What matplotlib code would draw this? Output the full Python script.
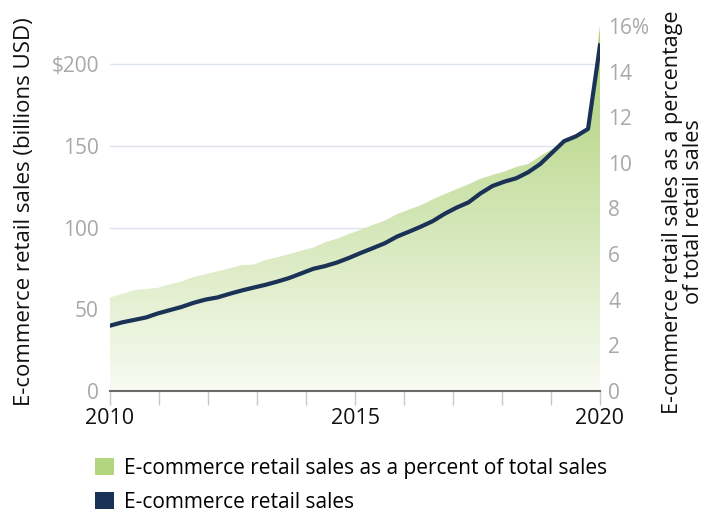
import numpy as np
import matplotlib
matplotlib.use("Agg")
import matplotlib.pyplot as plt
from matplotlib.colors import LinearSegmentedColormap
from matplotlib.patches import Patch

plt.rcParams['font.family'] = ['Open Sans', 'DejaVu Sans']

# quarterly values, 2010 Q1 .. 2020 Q2
quarters = [f"{y} Q{q}" for y in range(2010, 2021) for q in range(1, 5)][:42]

sales = [40.0, 42.0, 43.5, 45.0, 47.5, 49.5, 51.5, 54.0, 56.0, 57.3,
         59.5, 61.5, 63.3, 65.0, 67.0, 69.2, 72.0, 74.8, 76.5, 78.7,
         81.5, 84.6, 87.5, 90.5, 94.5, 97.5, 100.6, 104.0, 108.5, 112.3,
         115.5, 121.0, 125.5, 128.2, 130.3, 134.0, 139.0, 146.0, 153.0, 156.0,
         160.5, 211.6]

pct = [4.10, 4.25, 4.42, 4.47, 4.52, 4.68, 4.80, 5.00, 5.12, 5.25,
       5.37, 5.52, 5.54, 5.74, 5.86, 6.00, 6.15, 6.28, 6.52, 6.68,
       6.88, 7.07, 7.28, 7.47, 7.75, 7.95, 8.14, 8.40, 8.63, 8.85,
       9.06, 9.30, 9.47, 9.62, 9.82, 9.95, 10.30, 10.60, 10.95, 11.20,
       11.50, 16.00]

left_ticks = [0, 50, 100, 150, 200]
left_labels = ["0", "50", "100", "150", "$200"]
right_ticks = [0, 2, 4, 6, 8, 10, 12, 14, 16]
right_labels = ["0", "2", "4", "6", "8", "10", "12", "14", "16%"]
years = list(range(2010, 2021))
year_labels = [str(y) if y in (2010, 2015, 2020) else "" for y in years]

x = np.linspace(2010, 2020, len(quarters))

navy = "#1b3257"
green_top = "#aacf72"
green_bottom = "#f8fbf3"
grey = "#a8a8a8"

fig = plt.figure(figsize=(7.16, 5.13), dpi=100)
ax = fig.add_axes([110/716, 1 - 391/513, 490/716, 365/513])
ax2 = ax.twinx()

ax.set_xlim(2010, 2020)
ax.set_ylim(0, 223.5)

# grid on the back axes so the area covers it
ax.set_yticks(left_ticks)
ax.set_yticklabels(left_labels)
ax.yaxis.grid(True, color="#dde3ec", linewidth=1)
ax.set_axisbelow(True)
for s in ax.spines.values():
    s.set_visible(False)

# gradient area
cmap = LinearSegmentedColormap.from_list("g", [green_bottom, green_top])
grad = np.linspace(0, 1, 256).reshape(-1, 1)
im = ax2.imshow(grad, cmap=cmap, origin="lower", aspect="auto",
                extent=[2010, 2020, 0, 16], zorder=1)
poly = ax2.fill_between(x, 0, pct, color="none", linewidth=0)
im.set_clip_path(poly.get_paths()[0], transform=ax2.transData)

# sales line drawn on top, in left-axis units
ax2.plot(x, sales, color=navy, linewidth=3, transform=ax.transData, zorder=3)

ax2.set_xlim(2010, 2020)
ax2.set_ylim(0, 16)
ax2.set_yticks(right_ticks)
ax2.set_yticklabels(right_labels)
for k in ["top", "left", "right"]:
    ax2.spines[k].set_visible(False)
ax2.spines["bottom"].set_color("#6b6b6b")
ax2.spines["bottom"].set_linewidth(1.5)
ax2.spines["bottom"].set_zorder(4)

ax.set_xticks(years)
ax.set_xticklabels(year_labels)
ax.tick_params(axis="x", length=10, width=1, color="#c8c8c8", labelsize=15.5,
               labelcolor="#111111", pad=2)
ax.tick_params(axis="y", length=0, labelsize=15, labelcolor=grey, pad=8)
ax2.tick_params(axis="y", length=0, labelsize=15, labelcolor=grey, pad=6)

fig.text(25/716, 1 - 212/513, "E-commerce retail sales (billions USD)",
         rotation=90, ha="center", va="center", fontsize=16, color="#111111")
fig.text(683/716, 1 - 212/513,
         "E-commerce retail sales as a percentage\nof total retail sales",
         rotation=90, ha="center", va="center", fontsize=15.5, color="#111111",
         linespacing=1.05)

handles = [Patch(facecolor="#b3d580", edgecolor="none"),
           Patch(facecolor=navy, edgecolor="none")]
fig.legend(handles, ["E-commerce retail sales as a percent of total sales",
                     "E-commerce retail sales"],
           loc="upper left", bbox_to_anchor=(95/716, 1 - 458/513),
           borderpad=0, borderaxespad=0,
           frameon=False, fontsize=15, handlelength=0.9, handleheight=0.9,
           handletextpad=0.5, labelspacing=0.6)

fig.savefig("out.png", dpi=100)
